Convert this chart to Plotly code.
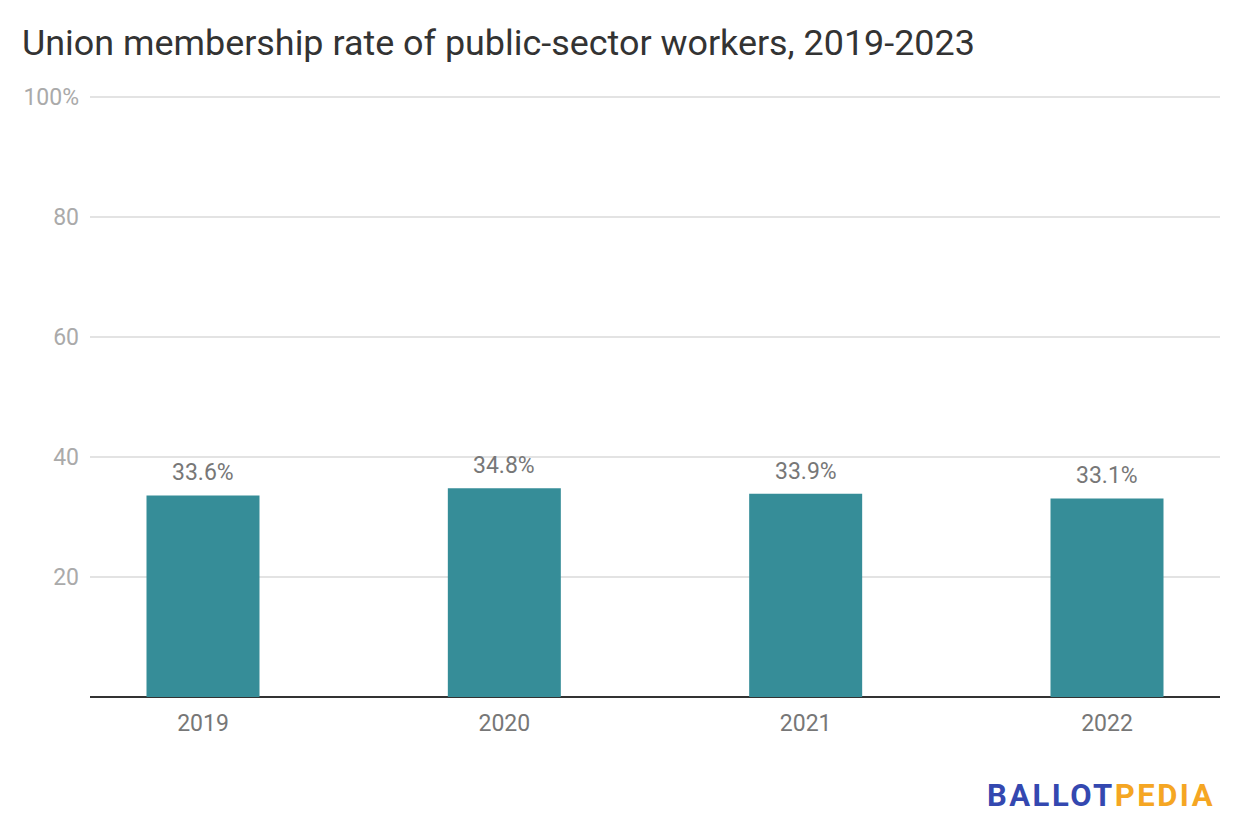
import plotly.graph_objects as go

years = ["2019", "2020", "2021", "2022"]
rates = [33.6, 34.8, 33.9, 33.1]
ytick_vals = [20, 40, 60, 80, 100]
ytick_text = ["20", "40", "60", "80", "100%"]
labels = [f"{v:.1f}%" for v in rates]

BAR = "#368d98"
FONT = "Roboto"

# figure is drawn 8px smaller to compensate the page's default body margin
W, H = 1224, 824
L, R, T, B = 82, 12, 88, 135
PW, PH = W - L - R, H - T - B

fig = go.Figure()
fig.add_trace(go.Bar(
    x=years, y=rates, width=0.375, marker=dict(color=BAR, line=dict(width=0)),
    hoverinfo="skip",
))

for i, (y, t) in enumerate(zip(rates, labels)):
    fig.add_annotation(x=i, y=y, text=t, showarrow=False, yanchor="bottom",
                       yshift=7, font=dict(family=FONT, size=23, color="#777777"))

fig.add_annotation(
    xref="paper", yref="paper", x=(1209 - L) / PW, y=-(787 - (T + PH)) / PH,
    xanchor="right", yanchor="middle",
    text="<span style='letter-spacing:2.5px'><span style='color:#3448b0'>BALLOT</span>"
         "<span style='color:#f5a623'>PEDIA</span></span>",
    showarrow=False, font=dict(family=FONT, size=31, color="#3448b0", weight="bold"),
)

fig.update_layout(
    width=W, height=H,
    paper_bgcolor="white", plot_bgcolor="white",
    margin=dict(l=L, r=R, t=T, b=B),
    title=dict(text="Union membership rate of public-sector workers, 2019-2023",
               x=14 / W, xanchor="left", y=1 - 34 / H, yanchor="middle",
               font=dict(family=FONT, size=35.9, color="#333333")),
    showlegend=False,
    xaxis=dict(type="category", range=[-0.375, 3.375], showgrid=False,
               showline=False, ticks="", zeroline=False, ticklabelstandoff=10,
               tickfont=dict(family=FONT, size=23, color="#777777")),
    yaxis=dict(range=[0, 100.2], tickvals=ytick_vals, ticktext=ytick_text,
               showgrid=True, gridcolor="#e3e3e3", gridwidth=1.5,
               zeroline=True, zerolinecolor="#333333", zerolinewidth=2,
               showline=False, ticks="", ticklabelstandoff=10,
               tickfont=dict(family=FONT, size=23, color="#aaaaaa")),
)

fig.write_html("out.html")
